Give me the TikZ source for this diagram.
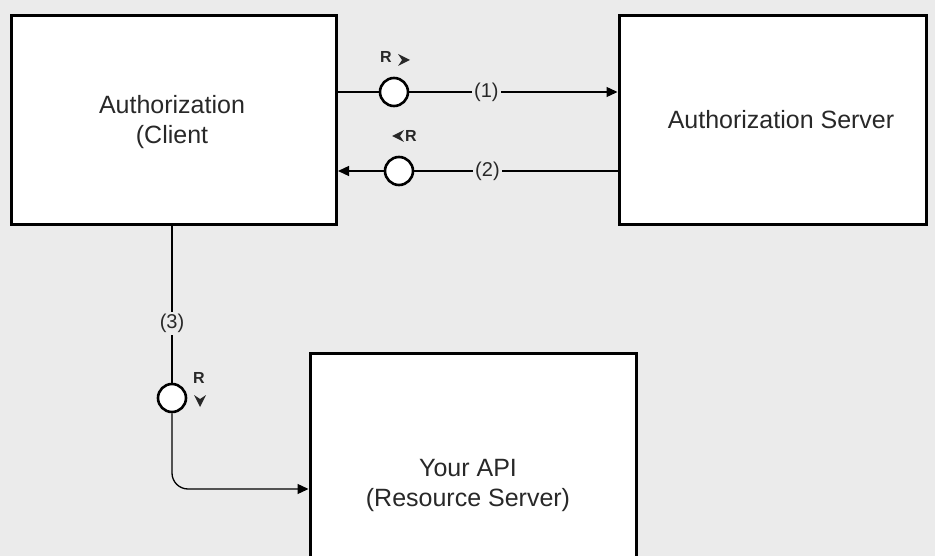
\documentclass[tikz,border=0pt]{standalone}
\usepackage{fontspec}
\setmainfont{Liberation Sans}
\usetikzlibrary{arrows.meta}
\definecolor{bg}{RGB}{235,235,235}
\definecolor{txt}{RGB}{40,40,40}
\begin{document}
\begin{tikzpicture}[x=1pt,y=-1pt,
  box/.style={draw=black,line width=3pt,fill=white,inner sep=0pt,anchor=north west},
  boxtext/.style={text=txt,font=\fontsize{25}{30}\selectfont,align=center},
  ring/.style={circle,draw=black,line width=2.6pt,fill=white,minimum size=28pt,inner sep=0pt},
  conn/.style={draw=black,line width=1.3pt},
  tip/.style={-{Triangle[length=11pt,width=10pt]}},
  lbl/.style={fill=bg,text=txt,inner sep=2.5pt,font=\fontsize{20}{22}\selectfont},
  rlbl/.style={text=txt,inner sep=0pt,font=\bfseries\fontsize{16}{18}\selectfont},
  rmark/.pic={\fill[txt] (0,0) -- (-12,-6) -- (-8,0) -- (-12,6) -- cycle;}
]
\fill[bg] (0,0) rectangle (935,556);
\useasboundingbox (0,0) rectangle (935,556);
\clip (0,0) rectangle (935,556);

% boxes
\node[box,minimum width=325pt,minimum height=209pt] (client) at (10,14.5) {};
\node[box,minimum width=307pt,minimum height=209pt] (server) at (617.5,14.5) {};
\node[box,minimum width=326pt,minimum height=260pt] (api) at (308.5,351.5) {};

\node[boxtext] (clienttxt) at (172,122) {Authorization\\(Client};
\node[boxtext] (servertxt) at (781,120) {Authorization Server};
\node[boxtext] (apitxt) at (468,485) {Your API\\(Resource Server)};

% rings
\node[ring] (r1) at (394,92) {};
\node[ring] (r2) at (399,171) {};
\node[ring] (r3) at (172,398) {};

% connector (1)
\draw[conn] (client.east |- r1) -- (r1);
\draw[conn,tip] (r1) -- node[lbl,pos=0.37] (l1) {(1)} (server.west |- r1);
% connector (2)
\draw[conn] (server.west |- r2) -- node[lbl,pos=0.64] (l2) {(2)} (r2);
\draw[conn,tip] (r2) -- (client.east |- r2);
% connector (3)
\draw[conn] (client.south -| r3) -- node[lbl,pos=0.62] (l3) {(3)} (r3);
\coordinate (apiin) at (api.west |- 0,489);
\draw[conn,tip,rounded corners=16pt] (r3) |- (apiin);

% R labels
\node[rlbl] (rl1) at (386,57) {R};
\pic at (410,60) {rmark};
\node[rlbl] (rl2) at (411,136) {R};
\pic[rotate=180] at (392,136) {rmark};
\node[rlbl] (rl3) at (199,378) {R};
\pic[rotate=-90] at (200,407) {rmark};
\end{tikzpicture}
\end{document}
